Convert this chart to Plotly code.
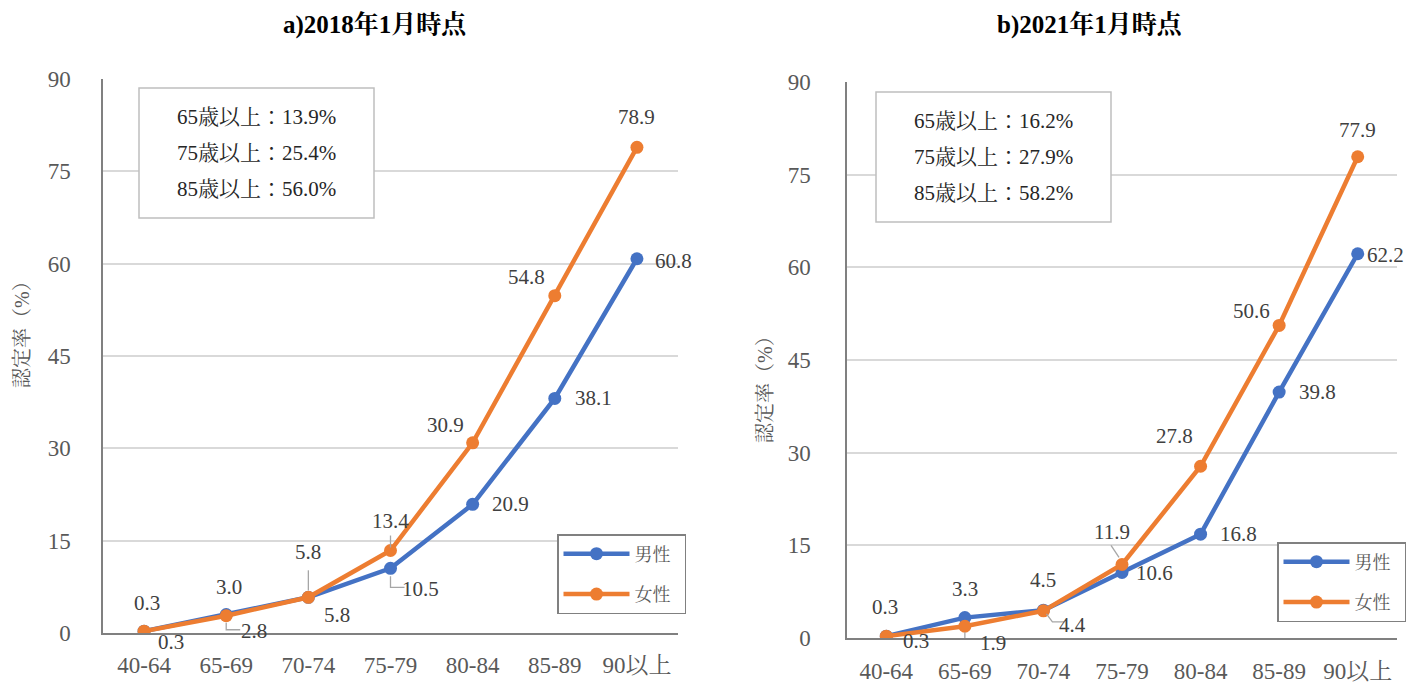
import plotly.graph_objects as go

categories = ["40-64", "65-69", "70-74", "75-79", "80-84", "85-89", "90以上"]
male_2018 = [0.3, 3.0, 5.8, 10.5, 20.9, 38.1, 60.8]
female_2018 = [0.3, 2.8, 5.8, 13.4, 30.9, 54.8, 78.9]
male_2021 = [0.3, 3.3, 4.5, 10.6, 16.8, 39.8, 62.2]
female_2021 = [0.3, 1.9, 4.4, 11.9, 27.8, 50.6, 77.9]
y_ticks = [0, 15, 30, 45, 60, 75, 90]
titles = ["a)2018年1月時点", "b)2021年1月時点"]
summary_2018 = ["65歳以上：13.9%", "75歳以上：25.4%", "85歳以上：56.0%"]
summary_2021 = ["65歳以上：16.2%", "75歳以上：27.9%", "85歳以上：58.2%"]
series_names = ["男性", "女性"]

BLUE = "#4472C4"
ORANGE = "#ED7D31"
FONT = "Liberation Serif, Noto Serif CJK JP, Noto Sans CJK JP, serif"
GRAY_TXT = "#595959"
LBL_TXT = "#404040"
PAD = "\u00a0\u00a0"  # legend right padding

W, H = 1427, 684
OX, OY = 8, 8  # page body offset compensation

def px_x(p):
    return (p - OX) / W

def px_y(p):
    return 1 - (p - OY) / H

fig = go.Figure()

panels = [
    dict(male=male_2018, female=female_2018, xa="x", ya="y", legend="legend"),
    dict(male=male_2021, female=female_2021, xa="x2", ya="y2", legend="legend2"),
]

for p in panels:
    for name, vals, col in [(series_names[0], p["male"], BLUE), (series_names[1], p["female"], ORANGE)]:
        fig.add_trace(go.Scatter(
            x=categories, y=vals, name=name + PAD, mode="lines+markers",
            line=dict(color=col, width=4.5), marker=dict(color=col, size=13),
            xaxis=p["xa"], yaxis=p["ya"], legend=p["legend"], legendgroup=name,
            hoverinfo="skip",
        ))

# label offsets in pixels (dx, dy screen-down)
off_m18 = [(3, -28), (3, -28), (0, -45), (30, 21), (38, 0), (39, 0), (37, 2)]
off_f18 = [(27, 11), (28, 15), (29, 18), (0, -30), (-27, -18), (-28, -19), (0, -30)]
off_m21 = [(-1, -29), (0, -29), (0, -30), (32, 0), (38, 0), (38, 0), (28, 1)]
off_f21 = [(30, 5), (28, 17), (29, 14), (-10, -32), (-26, -30), (-28, -14), (0, -27)]

annotations = []

def add_labels(vals, offs, xa, ya):
    for c, v, (dx, dy) in zip(categories, vals, offs):
        annotations.append(dict(
            x=c, y=v, xref=xa, yref=ya, text=f"{v:.1f}", showarrow=False,
            xanchor="center", yanchor="middle",
            xshift=dx, yshift=-dy, font=dict(family=FONT, size=21, color=LBL_TXT),
        ))

add_labels(male_2018, off_m18, "x", "y")
add_labels(female_2018, off_f18, "x", "y")
add_labels(male_2021, off_m21, "x2", "y2")
add_labels(female_2021, off_f21, "x2", "y2")

# leader lines (pixel paths anchored to data points)
shapes = []
leaders = [
    ("x", "y", 1, female_2018[1], "M0,-7 L0,-14 L14,-14"),
    ("x", "y", 2, male_2018[2], "M0,7 L0,27"),
    ("x", "y", 3, female_2018[3], "M0,3 L0,15"),
    ("x", "y", 3, male_2018[3], "M0,-8 L0,-19 L14,-19"),
    ("x2", "y2", 1, female_2021[1], "M0,-6 L0,-14 L14,-14"),
    ("x2", "y2", 2, female_2021[2], "M3,-3 L9,-11 L21,-11"),
    ("x2", "y2", 3, female_2021[3], "M-3,7 L-11,19"),
]
for xa, ya, ci, v, path in leaders:
    shapes.append(dict(
        type="path", xref=xa, yref=ya, xsizemode="pixel", ysizemode="pixel",
        xanchor=ci, yanchor=v, path=path, line=dict(color="#A6A6A6", width=1.3),
        layer="above",
    ))

# titles
for t, cx in zip(titles, [375, 1090]):
    annotations.append(dict(
        x=px_x(cx), y=px_y(9), xref="paper", yref="paper", text=f"<b>{t}</b>",
        xanchor="center", yanchor="top", borderpad=0,
        showarrow=False, font=dict(family=FONT, size=25, color="#000000"),
    ))

# y-axis titles
for cx, cy in [(22, 330), (765, 385)]:
    annotations.append(dict(
        x=px_x(cx), y=px_y(cy), xref="paper", yref="paper", text="認定率（%）",
        xanchor="center", yanchor="middle",
        textangle=-90, showarrow=False, font=dict(family=FONT, size=20, color=GRAY_TXT),
    ))

# summary boxes
for lines, (x0, y0, x1, y1) in [(summary_2018, (139, 88, 374, 218)), (summary_2021, (876, 92, 1111, 222))]:
    shapes.append(dict(
        type="rect", xref="paper", yref="paper",
        x0=px_x(x0), x1=px_x(x1), y0=px_y(y1), y1=px_y(y0),
        line=dict(color="#BFBFBF", width=1.5), fillcolor="white", layer="above",
    ))
    cx = (x0 + x1) / 2
    for i, line in enumerate(lines):
        annotations.append(dict(
            x=px_x(cx), y=px_y(y0 + 29 + 36 * i), xref="paper", yref="paper",
            xanchor="center", yanchor="middle",
            text=line, showarrow=False, font=dict(family=FONT, size=21, color="#262626"),
        ))

axis_common = dict(
    showgrid=False, showline=True, linecolor="#808080", linewidth=1.5,
    ticks="", tickfont=dict(family=FONT, size=23, color=GRAY_TXT),
    range=[-0.5, 6.5], fixedrange=True, automargin=False, zeroline=False,
)
yaxis_common = dict(
    range=[0, 90], tickvals=y_ticks, showgrid=True, gridcolor="#D9D9D9", gridwidth=1.5,
    showline=True, linecolor="#808080", linewidth=1.5, ticks="", zeroline=False,
    tickfont=dict(family=FONT, size=23, color=GRAY_TXT), fixedrange=True, automargin=False,
)

legend_common = dict(
    font=dict(family=FONT, size=18, color=GRAY_TXT), bordercolor="#808080", borderwidth=1.5,
    bgcolor="white", traceorder="grouped", tracegroupgap=14, xanchor="left", yanchor="top",
    itemwidth=66,
)

fig.update_layout(
    template="none",
    width=W, height=H, margin=dict(l=0, r=0, t=0, b=0, pad=0, autoexpand=False),
    plot_bgcolor="white", paper_bgcolor="white", showlegend=True,
    xaxis=dict(domain=[px_x(103), px_x(678)], anchor="y", ticklabelstandoff=11, **axis_common),
    yaxis=dict(domain=[px_y(633), px_y(79)], anchor="x", ticklabelstandoff=26, **yaxis_common),
    xaxis2=dict(domain=[px_x(847), px_x(1397)], anchor="y2", ticklabelstandoff=12, **axis_common),
    yaxis2=dict(domain=[px_y(638), px_y(82)], anchor="x2", ticklabelstandoff=30, **yaxis_common),
    legend=dict(x=px_x(557), y=px_y(534), **legend_common),
    legend2=dict(x=px_x(1277), y=px_y(542), **legend_common),
    annotations=annotations, shapes=shapes,
)

fig.write_html("out.html")
